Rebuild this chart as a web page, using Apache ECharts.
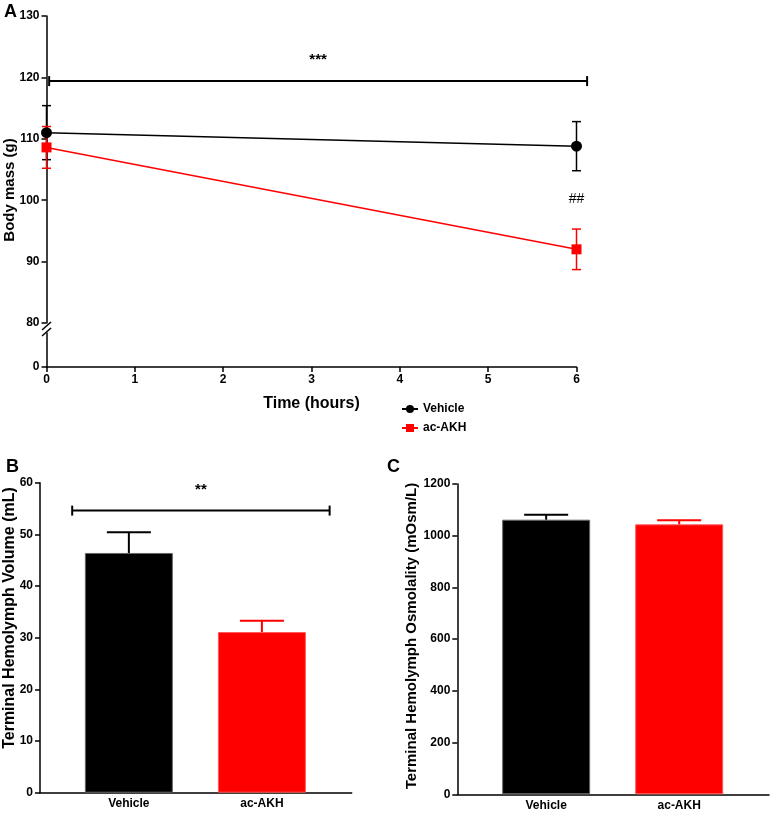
<!DOCTYPE html>
<html lang="en">
<head>
  <meta charset="UTF-8">
  <title>Body mass and hemolymph</title>
  <script src="https://cdn.jsdelivr.net/npm/echarts@6/dist/echarts.min.js"></script>
  <style>
    html, body { margin: 0; padding: 0; background: #fff; }
    #main { width: 772px; height: 814px; }
  </style>
</head>
<body>
  <div id="main"></div>

  <script>
    // panel A: body mass over time
    const hours = [0, 6];
    const vehicleMass = [111.0, 108.8];
    const vehicleMassSem = [4.4, 4.0];
    const akhMass = [108.6, 92.0];
    const akhMassSem = [3.4, 3.3];

    // panels B and C
    const groups = ['Vehicle', 'ac-AKH'];
    const volume = [46.4, 31.1];
    const volumeSem = [4.0, 2.2];
    const osmolality = [1062, 1044];
    const osmolalitySem = [19, 16];

    // significance marks: [x from, x to, y, label]
    const sigA = [[0.03, 6.12, 119.4, '***']];
    const hashA = [[6, 100.2, '##']];
    const sigB = [[0.574, 2.509, 54.6, '**']];

    const FONT = '"Liberation Sans", Arial, sans-serif';
    const RED = '#ff0000';
    const colors = ['#000000', RED];
    const borders = ['#666666', '#ff5a5a'];

    const chart = echarts.init(document.getElementById('main'));

    const tickLabel = { color: '#000', fontWeight: 'bold', fontSize: 12, fontFamily: FONT };
    const axLine = { lineStyle: { color: '#000', width: 1.5 } };
    const axTick = { inside: false, length: 5, lineStyle: { color: '#000', width: 1.5 } };

    // error bar: value = [x, lo, hi]; lower cap drawn only when withLow
    function errRender(capW, color, width, withLow) {
      return function (params, api) {
        const x = api.value(0);
        const lo = api.coord([x, api.value(1)]);
        const hi = api.coord([x, api.value(2)]);
        const st = { stroke: color, lineWidth: width };
        const kids = [
          { type: 'line', shape: { x1: lo[0], y1: lo[1], x2: hi[0], y2: hi[1] }, style: st },
          { type: 'line', shape: { x1: hi[0] - capW / 2, y1: hi[1], x2: hi[0] + capW / 2, y2: hi[1] }, style: st }
        ];
        if (withLow) {
          kids.push({ type: 'line', shape: { x1: lo[0] - capW / 2, y1: lo[1], x2: lo[0] + capW / 2, y2: lo[1] }, style: st });
        }
        return { type: 'group', children: kids };
      };
    }

    // bracket with star label: value = [x1, x2, y, label]
    function bracketRender(params, api) {
      const a = api.coord([api.value(0), api.value(2)]);
      const b = api.coord([api.value(1), api.value(2)]);
      const st = { stroke: '#000', lineWidth: 2 };
      return {
        type: 'group',
        children: [
          { type: 'line', shape: { x1: a[0], y1: a[1], x2: b[0], y2: b[1] }, style: st },
          { type: 'line', shape: { x1: a[0], y1: a[1] - 5, x2: a[0], y2: a[1] + 5 }, style: st },
          { type: 'line', shape: { x1: b[0], y1: b[1] - 5, x2: b[0], y2: b[1] + 5 }, style: st },
          {
            type: 'text',
            style: {
              text: api.value(3), x: (a[0] + b[0]) / 2, y: a[1] - 21,
              align: 'center', verticalAlign: 'middle',
              fill: '#000', font: 'bold 15px ' + FONT
            }
          }
        ]
      };
    }

    const barCfg = (vals) => vals.map((v, i) => ({
      value: [i + 1, v],
      itemStyle: { color: colors[i], borderColor: borders[i], borderWidth: 1 }
    }));

    const barAxisX = (grid) => ({
      gridIndex: grid, type: 'value', min: 0.332, max: 2.675,
      axisLine: axLine,
      axisTick: { show: false },
      splitLine: { show: false },
      axisLabel: Object.assign({}, tickLabel, {
        margin: 5,
        customValues: [1, 2],
        formatter: (v) => groups[Math.round(v) - 1]
      })
    });

    const plain = (v) => String(v);

    const option = {
      animation: false,
      backgroundColor: '#fff',
      textStyle: { fontFamily: FONT },
      legend: {
        orient: 'vertical',
        left: 396, top: 398,
        itemWidth: 16, itemHeight: 10, itemGap: 7,
        textStyle: { color: '#000', fontWeight: 'bold', fontSize: 12, fontFamily: FONT },
        data: ['Vehicle', 'ac-AKH']
      },
      grid: [
        { left: 46.5, width: 530, top: 16, height: 307 },
        { left: 46.5, width: 530, top: 333, height: 34 },
        { left: 40, width: 311.7, top: 482.7, height: 310 },
        { left: 457.3, width: 311.7, top: 484, height: 310.3 }
      ],
      xAxis: [
        { gridIndex: 0, type: 'value', min: 0, max: 6, show: false },
        {
          gridIndex: 1, type: 'value', min: 0, max: 6, interval: 1,
          axisLine: axLine, axisTick: axTick, splitLine: { show: false },
          axisLabel: Object.assign({}, tickLabel, { margin: 7 }),
          name: 'Time (hours)', nameLocation: 'middle', nameGap: 29,
          nameTextStyle: { color: '#000', fontWeight: 'bold', fontSize: 16, fontFamily: FONT }
        },
        barAxisX(2),
        barAxisX(3)
      ],
      yAxis: [
        {
          gridIndex: 0, type: 'value', min: 80, max: 130, interval: 10,
          axisLine: axLine, axisTick: axTick, splitLine: { show: false },
          axisLabel: Object.assign({}, tickLabel, { margin: 7, formatter: plain })
        },
        {
          gridIndex: 1, type: 'value', min: 0, max: 10,
          axisLine: axLine, splitLine: { show: false },
          axisTick: Object.assign({}, axTick, { customValues: [0] }),
          axisLabel: Object.assign({}, tickLabel, { margin: 7, customValues: [0], formatter: plain })
        },
        {
          gridIndex: 2, type: 'value', min: 0, max: 60, interval: 10,
          axisLine: axLine, axisTick: axTick, splitLine: { show: false },
          axisLabel: Object.assign({}, tickLabel, { margin: 7, formatter: plain })
        },
        {
          gridIndex: 3, type: 'value', min: 0, max: 1200, interval: 200,
          axisLine: axLine, axisTick: axTick, splitLine: { show: false },
          axisLabel: Object.assign({}, tickLabel, { margin: 7, formatter: plain })
        }
      ],
      series: [
        {
          name: 'Vehicle-err', type: 'custom', xAxisIndex: 0, yAxisIndex: 0, z: 2,
          renderItem: errRender(9, '#000', 1.5, true),
          data: hours.map((h, i) => [h, vehicleMass[i] - vehicleMassSem[i], vehicleMass[i] + vehicleMassSem[i]])
        },
        {
          name: 'ac-AKH-err', type: 'custom', xAxisIndex: 0, yAxisIndex: 0, z: 2,
          renderItem: errRender(9, RED, 1.5, true),
          data: hours.map((h, i) => [h, akhMass[i] - akhMassSem[i], akhMass[i] + akhMassSem[i]])
        },
        {
          name: 'Vehicle', type: 'line', xAxisIndex: 0, yAxisIndex: 0, z: 3,
          symbol: 'circle', symbolSize: 11,
          itemStyle: { color: '#000' }, lineStyle: { color: '#000', width: 1.5 },
          data: hours.map((h, i) => [h, vehicleMass[i]])
        },
        {
          name: 'ac-AKH', type: 'line', xAxisIndex: 0, yAxisIndex: 0, z: 3,
          symbol: 'rect', symbolSize: 10,
          itemStyle: { color: RED }, lineStyle: { color: RED, width: 1.5 },
          data: hours.map((h, i) => [h, akhMass[i]])
        },
        {
          type: 'custom', xAxisIndex: 0, yAxisIndex: 0, z: 4,
          renderItem: bracketRender, data: sigA
        },
        {
          type: 'custom', xAxisIndex: 0, yAxisIndex: 0, z: 4,
          renderItem: (params, api) => {
            const p = api.coord([api.value(0), api.value(1)]);
            return {
              type: 'text',
              style: { text: api.value(2), x: p[0], y: p[1], align: 'center', verticalAlign: 'middle', fill: '#000', font: '14px ' + FONT }
            };
          },
          data: hashA
        },
        // panel B
        {
          type: 'bar', xAxisIndex: 2, yAxisIndex: 2, barWidth: 88,
          data: barCfg(volume)
        },
        {
          type: 'custom', xAxisIndex: 2, yAxisIndex: 2, z: 3,
          renderItem: (params, api) => errRender(44, colors[params.dataIndex], 2, false)(params, api),
          data: groups.map((g, i) => [i + 1, volume[i], volume[i] + volumeSem[i]])
        },
        {
          type: 'custom', xAxisIndex: 2, yAxisIndex: 2, z: 4,
          renderItem: bracketRender, data: sigB
        },
        // panel C
        {
          type: 'bar', xAxisIndex: 3, yAxisIndex: 3, barWidth: 88,
          data: barCfg(osmolality)
        },
        {
          type: 'custom', xAxisIndex: 3, yAxisIndex: 3, z: 3,
          renderItem: (params, api) => errRender(44, colors[params.dataIndex], 2, false)(params, api),
          data: groups.map((g, i) => [i + 1, osmolality[i], osmolality[i] + osmolalitySem[i]])
        }
      ],
      graphic: [
        { type: 'text', left: 4, top: 3, style: { text: 'A', font: 'bold 18px ' + FONT, fill: '#000' } },
        { type: 'text', left: 6, top: 458, style: { text: 'B', font: 'bold 18px ' + FONT, fill: '#000' } },
        { type: 'text', left: 387, top: 458, style: { text: 'C', font: 'bold 18px ' + FONT, fill: '#000' } },
        // axis break marks
        { type: 'line', shape: { x1: 42, y1: 330, x2: 51, y2: 322 }, style: { stroke: '#000', lineWidth: 1.5 } },
        { type: 'line', shape: { x1: 42, y1: 336, x2: 51, y2: 328 }, style: { stroke: '#000', lineWidth: 1.5 } },
        {
          type: 'text', x: 10, y: 190, rotation: Math.PI / 2,
          style: { text: 'Body mass (g)', font: 'bold 15px ' + FONT, fill: '#000', align: 'center', verticalAlign: 'middle' }
        },
        {
          type: 'text', x: 10, y: 618, rotation: Math.PI / 2,
          style: { text: 'Terminal Hemolymph Volume (mL)', font: 'bold 16px ' + FONT, fill: '#000', align: 'center', verticalAlign: 'middle' }
        },
        {
          type: 'text', x: 412, y: 636, rotation: Math.PI / 2,
          style: { text: 'Terminal Hemolymph Osmolality (mOsm/L)', font: 'bold 15px ' + FONT, fill: '#000', align: 'center', verticalAlign: 'middle' }
        }
      ]
    };

    chart.setOption(option);
  </script>
</body>
</html>
